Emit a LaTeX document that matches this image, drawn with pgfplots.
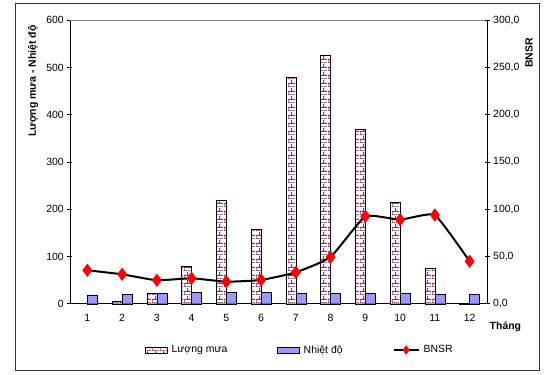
\documentclass[border=0pt]{standalone}
\usepackage{fontspec}
\setmainfont{Liberation Sans}
\usepackage{pgfplots}
\pgfplotsset{compat=1.18}
\usetikzlibrary{patterns}
\definecolor{brick}{HTML}{993366}
\definecolor{tempc}{HTML}{9999FF}
\pgfdeclarepatternformonly{xlbricks}{\pgfqpoint{0bp}{0bp}}{\pgfqpoint{8bp}{8bp}}{\pgfqpoint{8bp}{8bp}}{
  \pgfsetlinewidth{1.2bp}
  \pgfpathmoveto{\pgfqpoint{0bp}{0bp}}\pgfpathlineto{\pgfqpoint{8bp}{0bp}}
  \pgfpathmoveto{\pgfqpoint{0bp}{4bp}}\pgfpathlineto{\pgfqpoint{8bp}{4bp}}
  \pgfpathmoveto{\pgfqpoint{0bp}{0bp}}\pgfpathlineto{\pgfqpoint{0bp}{4bp}}
  \pgfpathmoveto{\pgfqpoint{4bp}{4bp}}\pgfpathlineto{\pgfqpoint{4bp}{8bp}}
  \pgfusepath{stroke}
}
\pgfplotsset{
  barleg/.style={legend image code/.code={\draw[##1] (0bp,-3bp) rectangle (22bp,3bp);}},
  lineleg/.style={legend image code/.code={\draw[##1] (0bp,0bp) -- (25bp,0bp); \draw[##1, draw=none] plot coordinates {(12.5bp,0bp)};}},
}
\begin{document}
\fontsize{10.5}{12}\selectfont
\begin{tikzpicture}
\useasboundingbox (-70bp,-71.3bp) rectangle (480bp,303.7bp);
\draw[black!80, line width=0.8pt] (-55bp,-66.3bp) rectangle (469.3bp,300.4bp);
\begin{axis}[
  at={(0,0)}, anchor=origin,
  width=417bp, height=283.4bp, scale only axis,
  xmin=0.5, xmax=12.5, ymin=0, ymax=600,
  axis x line*=bottom, axis y line*=left,
  xtick={1,...,12}, major x tick style={draw=none},
  extra x ticks={1.5,2.5,...,11.5}, extra x tick labels={},
  extra x tick style={major tick length=5bp, tick align=center, tick style={black}},
  ytick={0,100,...,600}, tick align=center, major tick length=5bp,
  tick style={black, line width=0.6pt},
  axis line style={black, line width=0.8pt},
  /pgf/number format/assume math mode=true,
  ticklabel style={font=\fontsize{10.5}{12}\selectfont},
  xticklabel style={yshift=-4bp},
  legend style={at={(75bp,-46.3bp)}, anchor=west, draw=none, legend columns=3,
    font=\fontsize{10.5}{12}\selectfont, inner sep=0pt,
    /tikz/every odd column/.append style={column sep=2bp},
    /tikz/every even column/.append style={column sep=48bp}},
  legend cell align=left,
  clip=false,
]
\addplot[ybar, bar width=10bp, bar shift=-5bp, draw=black, fill=white,
  postaction={pattern=xlbricks, pattern color=brick}, barleg]
  coordinates {(2,5) (3,22) (4,80) (5,220) (6,157) (7,480) (8,527) (9,369) (10,215) (11,76) (12,1)};
\addlegendentry{Lượng mưa}
\addplot[ybar, bar width=10bp, bar shift=5bp, draw=black, fill=tempc, barleg]
  coordinates {(1,18.5) (2,20.5) (3,22.6) (4,24) (5,24) (6,24) (7,22.6) (8,22.6) (9,22.6) (10,22.6) (11,20.5) (12,20.5)};
\addlegendentry{Nhiệt độ}
\addlegendimage{black, line width=2bp, mark=diamond*, mark options={fill=red, draw=red, solid}, mark size=3bp, lineleg}
\addlegendentry{BNSR}
\draw[gray, line width=0.6pt] (axis cs:0.5,600) -- (axis cs:12.5,600);
\end{axis}
\begin{axis}[
  at={(0,0)}, anchor=origin,
  width=417bp, height=283.4bp, scale only axis,
  xmin=0.5, xmax=12.5, ymin=0, ymax=300,
  axis x line=none, axis y line*=right,
  ytick={0,50,...,300}, tick align=center, major tick length=5bp,
  tick style={black, line width=0.6pt},
  axis line style={black, line width=0.8pt},
  /pgf/number format/.cd, fixed, fixed zerofill, precision=1, use comma, assume math mode=true,
  /pgfplots/.cd,
  ticklabel style={font=\fontsize{10.5}{12}\selectfont},
  clip=false,
]
\addplot[black, line width=2bp, smooth, tension=0.25, mark=diamond*, mark size=5bp,
  mark options={fill=red, draw=red, solid}]
  coordinates {(1,35.4) (2,31.1) (3,24.8) (4,26.9) (5,23.3) (6,25.1) (7,33.2) (8,49.4) (9,92.5) (10,88.9) (11,93.9) (12,44.9)};
\end{axis}
\node[rotate=90, font=\bfseries\fontsize{10.5}{12}\selectfont] at (-37bp,222.7bp) {Lượng mưa - Nhiệt độ};
\node[rotate=90, font=\bfseries\fontsize{10.5}{12}\selectfont] at (459bp,250.7bp) {BNSR};
\node[font=\bfseries\fontsize{10.5}{12}\selectfont] at (435.4bp,-23bp) {Tháng};
\end{tikzpicture}
\end{document}
